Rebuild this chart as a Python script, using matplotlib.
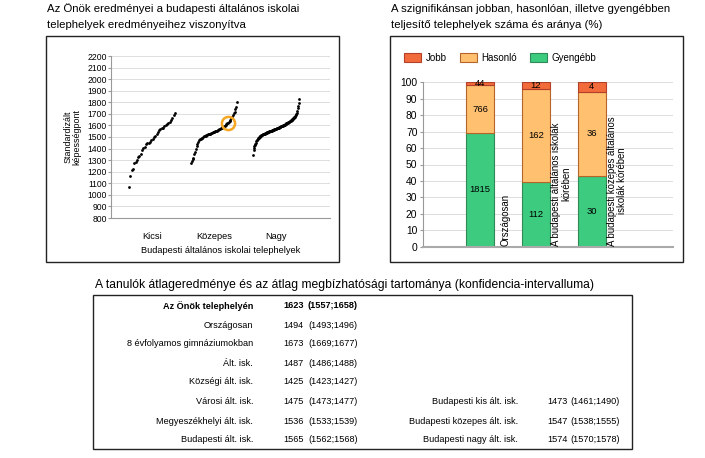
import numpy as np
import matplotlib
matplotlib.use("Agg")
import matplotlib.pyplot as plt
from matplotlib.patches import Rectangle

plt.rcParams['font.family'] = ['Liberation Sans', 'DejaVu Sans']

# --- scatter data: sorted site scores per size group ---
groups = ['Kicsi', 'Közepes', 'Nagy']
kicsi = [1067, 1166, 1213, 1225, 1271, 1283, 1300, 1330, 1335, 1350, 1388, 1402,
         1417, 1437, 1445, 1452, 1460, 1470, 1481, 1496, 1510, 1522, 1539, 1557,
         1568, 1574, 1580, 1592, 1603, 1615, 1621, 1633, 1650, 1665, 1691, 1708]
kozepes = [1275, 1290, 1310, 1320, 1350, 1370, 1395, 1420, 1440, 1455, 1470, 1480,
           1485, 1490, 1495, 1500, 1505, 1508, 1512, 1515, 1518, 1522, 1525, 1528,
           1530, 1533, 1536, 1539, 1542, 1545, 1548, 1551, 1555, 1558, 1562, 1566,
           1570, 1574, 1578, 1583, 1588, 1593, 1598, 1605, 1612, 1618, 1623, 1630,
           1640, 1648, 1660, 1675, 1690, 1705, 1720, 1740, 1760, 1800]
nagy = [1345, 1385, 1405, 1420, 1432, 1442, 1452, 1462, 1470, 1477, 1483, 1489,
        1494, 1498, 1502, 1506, 1509, 1512, 1515, 1518, 1520, 1522, 1524, 1526,
        1528, 1530, 1532, 1534, 1536, 1538, 1540, 1542, 1543, 1545, 1546, 1548,
        1550, 1551, 1553, 1554, 1556, 1557, 1559, 1560, 1562, 1564, 1566, 1568,
        1569, 1571, 1573, 1575, 1576, 1578, 1580, 1582, 1583, 1585, 1587, 1589,
        1591, 1593, 1595, 1597, 1599, 1602, 1604, 1606, 1608, 1610, 1612, 1614,
        1617, 1619, 1622, 1625, 1627, 1630, 1632, 1635, 1638, 1640, 1643, 1647,
        1651, 1655, 1659, 1663, 1667, 1671, 1677, 1683, 1690, 1697, 1706, 1725,
        1749, 1770, 1795, 1825]
own_score = 1623  # highlighted site (in Közepes group)

# --- stacked bar data: counts of sites ---
bar_cats = ['Országosan', 'A budapesti általános iskolák\nkörében',
            'A budapesti közepes általános\niskolák körében']
gyengebb = [1815, 112, 30]
hasonlo = [766, 162, 36]
jobb = [44, 12, 4]

# --- table data ---
table_left = [('Az Önök telephelyén', '1623', '(1557;1658)'),
              ('Országosan', '1494', '(1493;1496)'),
              ('8 évfolyamos gimnáziumokban', '1673', '(1669;1677)'),
              ('Ált. isk.', '1487', '(1486;1488)'),
              ('Községi ált. isk.', '1425', '(1423;1427)'),
              ('Városi ált. isk.', '1475', '(1473;1477)'),
              ('Megyeszékhelyi ált. isk.', '1536', '(1533;1539)'),
              ('Budapesti ált. isk.', '1565', '(1562;1568)')]
table_right = [('Budapesti kis ált. isk.', '1473', '(1461;1490)'),
               ('Budapesti közepes ált. isk.', '1547', '(1538;1555)'),
               ('Budapesti nagy ált. isk.', '1574', '(1570;1578)')]

W, H = 705, 458
fig = plt.figure(figsize=(W / 100, H / 100), dpi=100)


def fx(px):
    return px / W


def fy(py):
    return 1 - py / H


def box(x0, y0, x1, y1):
    fig.patches.append(Rectangle((fx(x0), fy(y1)), fx(x1) - fx(x0), fy(y0) - fy(y1),
                                 transform=fig.transFigure, fill=False,
                                 edgecolor='#222222', linewidth=1.0))


# titles
fig.text(fx(47), fy(9), 'Az Önök eredményei a budapesti általános iskolai',
         fontsize=8.2, va='center')
fig.text(fx(47), fy(25), 'telephelyek eredményeihez viszonyítva',
         fontsize=8.2, va='center')
fig.text(fx(391), fy(9), 'A szignifikánsan jobban, hasonlóan, illetve gyengébben',
         fontsize=8.2, va='center')
fig.text(fx(391), fy(25), 'teljesítő telephelyek száma és aránya (%)',
         fontsize=8.2, va='center')
fig.text(fx(95), fy(285),
         'A tanulók átlageredménye és az átlag megbízhatósági tartománya (konfidencia-intervalluma)',
         fontsize=8.7, va='center')

box(46, 36, 339, 262)
box(390, 36, 683, 262)
box(93, 295, 632, 449)

# ---------------- scatter ----------------
ax1 = fig.add_axes([fx(111), fy(218), fx(330) - fx(111), fy(56) - fy(218)])
spread = 0.74
for i, vals in enumerate([kicsi, kozepes, nagy]):
    n = len(vals)
    xs = i + (np.arange(n) / (n - 1) - 0.5) * spread
    ax1.plot(xs, vals, 'o', color='black', markersize=2.0, markeredgewidth=0)
    if i == 1:
        k = vals.index(own_score)
        ax1.plot(xs[k], vals[k], 'o', markersize=9.5, markerfacecolor='none',
                 markeredgecolor='#F5A623', markeredgewidth=1.8)
ax1.set_xlim(-0.66, 2.87)
ax1.set_ylim(800, 2200)
ax1.set_yticks(range(800, 2201, 100))
ax1.set_xticks([0, 1, 2])
ax1.set_xticklabels(groups, fontsize=6.7)
ax1.tick_params(axis='x', length=0, pad=10)
ax1.tick_params(axis='y', labelsize=6.2, length=2, color='#999999', pad=1)
ax1.grid(axis='y', color='#dddddd', linewidth=0.7)
ax1.set_axisbelow(True)
for s in ['top', 'right']:
    ax1.spines[s].set_visible(False)
for s in ['left', 'bottom']:
    ax1.spines[s].set_color('#999999')
    ax1.spines[s].set_linewidth(0.8)
ax1.set_xlabel('Budapesti általános iskolai telephelyek', fontsize=6.7, labelpad=4)
ax1.set_ylabel('Standardizált\nképességpont', fontsize=6.4, labelpad=4,
               linespacing=1.0)

# ---------------- stacked bars ----------------
ax2 = fig.add_axes([fx(423), fy(246.7), fx(673) - fx(423), fy(82.3) - fy(246.7)])
tot = np.array(gyengebb) + np.array(hasonlo) + np.array(jobb)
pg = np.array(gyengebb) / tot * 100
ph = np.array(hasonlo) / tot * 100
pj = np.array(jobb) / tot * 100
xb = np.arange(len(bar_cats))
bw = 0.51
ax2.bar(xb, pg, bw, color='#3DCB7F', edgecolor='#2E8B57', linewidth=0.8, label='Gyengébb')
ax2.bar(xb, ph, bw, bottom=pg, color='#FFC070', edgecolor='#B5652A', linewidth=0.8,
        label='Hasonló')
ax2.bar(xb, pj, bw, bottom=pg + ph, color='#F26B3A', edgecolor='#B5402A', linewidth=0.8,
        label='Jobb')
for i in range(len(bar_cats)):
    ax2.text(xb[i], pg[i] / 2, str(gyengebb[i]), ha='center', va='center', fontsize=6.8)
    ax2.text(xb[i], pg[i] + ph[i] / 2, str(hasonlo[i]), ha='center', va='center',
             fontsize=6.8)
    ax2.text(xb[i], pg[i] + ph[i] + pj[i] / 2, str(jobb[i]), ha='center', va='center',
             fontsize=6.8)
    ax2.text(xb[i] + 0.45, 0.5, bar_cats[i], rotation=90, ha='center', va='bottom',
             fontsize=6.9, linespacing=1.0)
ax2.set_xlim(-1.02, 3.45)
ax2.set_ylim(0, 100)
ax2.set_yticks(range(0, 101, 10))
ax2.set_xticks([])
ax2.tick_params(axis='y', labelsize=7.4, length=2, color='#999999', pad=2)
ax2.grid(axis='y', color='#dddddd', linewidth=0.7)
ax2.set_axisbelow(True)
for s in ['top', 'right']:
    ax2.spines[s].set_visible(False)
ax2.spines['left'].set_color('#999999')
ax2.spines['left'].set_linewidth(0.8)
ax2.spines['bottom'].set_color('#aaaaaa')
ax2.spines['bottom'].set_linewidth(1.5)
h, l = ax2.get_legend_handles_labels()
fig.legend(h[::-1], l[::-1], loc='center left', bbox_to_anchor=(fx(404), fy(58)),
           ncol=3, frameon=False, fontsize=7, handlelength=1.75, handleheight=1.0,
           columnspacing=1.3, handletextpad=0.5, borderaxespad=0, borderpad=0)

# ---------------- table ----------------
row_y = [306, 325, 344, 363, 382, 402, 421, 440]
for (name, mean, ci), ry in zip(table_left, row_y):
    weight = 'bold' if name == 'Az Önök telephelyén' else 'normal'
    fig.text(fx(253), fy(ry), name, ha='right', va='center', fontsize=6.6, fontweight=weight)
    fig.text(fx(283), fy(ry), mean, ha='left', va='center', fontsize=6.6, fontweight=weight)
    fig.text(fx(308), fy(ry), ci, ha='left', va='center', fontsize=6.6, fontweight=weight)
for (name, mean, ci), ry in zip(table_right, row_y[5:]):
    fig.text(fx(518), fy(ry), name, ha='right', va='center', fontsize=6.6)
    fig.text(fx(547), fy(ry), mean, ha='left', va='center', fontsize=6.6)
    fig.text(fx(570), fy(ry), ci, ha='left', va='center', fontsize=6.6)

fig.savefig('out.png', dpi=100)
